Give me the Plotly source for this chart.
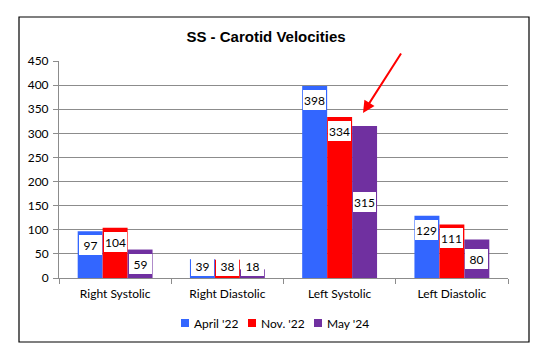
import plotly.graph_objects as go

# ---- data ----
categories = ["Right Systolic", "Right Diastolic", "Left Systolic", "Left Diastolic"]
series_names = ["April '22", "Nov. '22", "May '24"]
april_22 = [97, 39, 398, 129]
nov_22 = [104, 38, 334, 111]
may_24 = [59, 18, 315, 80]
y_ticks = [0, 50, 100, 150, 200, 250, 300, 350, 400, 450]
title_text = "SS - Carotid Velocities"

# ---- layout constants ----
W, H = 534, 357
L, R, T, B = 59, 26, 61, 79
plot_w = W - L - R
plot_h = H - T - B
ymax = 450
ppu = plot_h / ymax
bargap = 0.333
colors = ["#3366FF", "#FF0000", "#7030A0"]
label_pos = ["end", "end", "center"]
grid_col = "#8C8C8C"
font_family = "Lato, Calibri, sans-serif"
axis_font = dict(family=font_family, size=12, color="#000000")

series = [april_22, nov_22, may_24]
bar_px = plot_w / len(categories) * (1 - bargap) / len(series)


def px_to_paper_x(px):
    return (px - L) / plot_w


def px_to_paper_y(py):
    return (T + plot_h - py) / plot_h


fig = go.Figure()
for name, vals, col in zip(series_names, series, colors):
    fig.add_trace(go.Bar(x=categories, y=vals, name=name,
                         marker=dict(color=col, line=dict(width=0))))

# data labels with white boxes
box_h, box_w = 20, 23
annotations = []
for i, (vals, pos) in enumerate(zip(series, label_pos)):
    xshift = (i - (len(series) - 1) / 2) * bar_px
    for cat, v in zip(categories, vals):
        bar_h = v * ppu
        if pos == "end":
            fits = bar_h - 4 - box_h >= 2
            y, ya, ys = v, "top", -4
        else:
            fits = bar_h / 2 - box_h / 2 >= 2
            y, ya, ys = v / 2, "middle", 0
        if not fits:
            y, ya, ys = 0, "bottom", 2
        annotations.append(dict(
            x=cat, y=y, xref="x", yref="y", text=str(v), showarrow=False,
            xshift=xshift, yshift=ys, yanchor=ya, xanchor="center",
            bgcolor="white", width=box_w, height=box_h, borderpad=0, borderwidth=0,
            font=dict(family=font_family, size=12, color="#000000"),
        ))

# red arrow
tip_x, tip_y = 363, 113
tail_x, tail_y = 402, 52
annotations.append(dict(
    x=px_to_paper_x(tip_x), y=px_to_paper_y(tip_y), xref="paper", yref="paper",
    ax=tail_x - tip_x, ay=tail_y - tip_y, axref="pixel", ayref="pixel",
    showarrow=True, arrowhead=2, arrowsize=1.2, arrowwidth=2, arrowcolor="#FF0000",
    standoff=0, text="",
))

# chart border
bx0, by0, bx1, by1 = 19, 17, 529, 342
shapes = [dict(
    type="rect", xref="paper", yref="paper",
    x0=px_to_paper_x(bx0), x1=px_to_paper_x(bx1),
    y0=px_to_paper_y(by1), y1=px_to_paper_y(by0),
    line=dict(color="#000000", width=1.2), fillcolor="rgba(0,0,0,0)", layer="below",
)]

# custom legend (compact, like the reference)
legend_x = [181, 248, 314]
legend_yc = 323
sq = 8
for name, col, lx in zip(series_names, colors, legend_x):
    shapes.append(dict(
        type="rect", xref="paper", yref="paper",
        x0=px_to_paper_x(lx), x1=px_to_paper_x(lx + sq),
        y0=px_to_paper_y(legend_yc + sq / 2), y1=px_to_paper_y(legend_yc - sq / 2),
        line=dict(width=0), fillcolor=col, layer="above",
    ))
    annotations.append(dict(
        x=px_to_paper_x(lx + sq + 3), y=px_to_paper_y(legend_yc), xref="paper", yref="paper",
        text=name, showarrow=False, xanchor="left", yanchor="middle",
        font=dict(family=font_family, size=12, color="#000000"),
    ))

fig.update_layout(
    width=W, height=H,
    margin=dict(l=L, r=R, t=T, b=B, pad=0),
    paper_bgcolor="white", plot_bgcolor="white",
    barmode="group", bargap=bargap, bargroupgap=0,
    title=dict(text="<b>" + title_text + "</b>", x=266 / W, xanchor="center",
               y=1 - 37 / H, yanchor="middle", yref="container",
               font=dict(family="Liberation Sans, Arial, sans-serif", size=15, color="#000000")),
    showlegend=False,
    annotations=annotations,
    shapes=shapes,
    xaxis=dict(type="category", tickson="boundaries", ticks="outside", ticklen=5,
               tickcolor=grid_col, showline=True, linecolor=grid_col, linewidth=1,
               showgrid=False, tickfont=axis_font, ticklabelstandoff=5),
    yaxis=dict(range=[0, ymax], tickvals=y_ticks, ticks="outside", ticklen=5,
               tickcolor=grid_col, showline=True, linecolor=grid_col, linewidth=1,
               showgrid=True, gridcolor=grid_col, gridwidth=1, zeroline=False,
               tickfont=axis_font, ticklabelstandoff=2),
)

fig.write_html("out.html", config={"displayModeBar": False},
               post_script="document.body.style.margin='0';document.body.style.overflow='hidden';")
